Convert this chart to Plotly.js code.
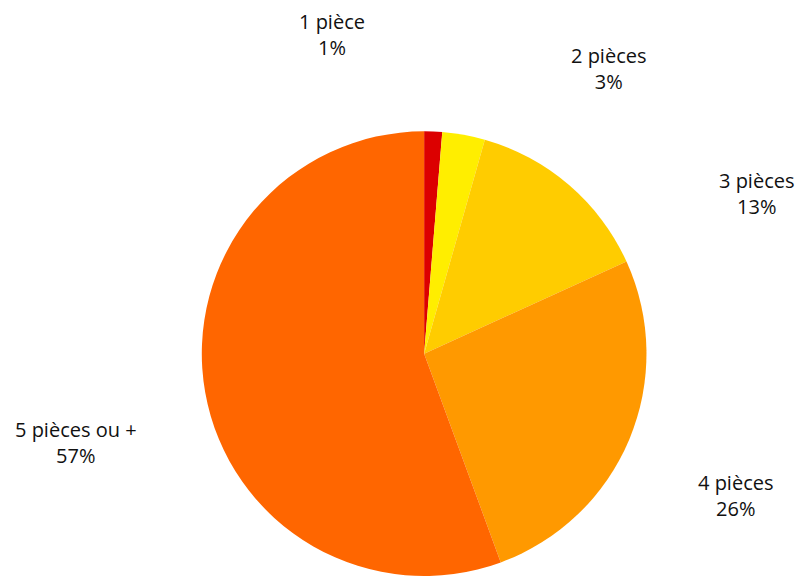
<!DOCTYPE html>
<html><head><meta charset="utf-8">
<script src="https://cdn.plot.ly/plotly-3.0.1.min.js"></script>
<style>html,body{margin:0;padding:0;background:#fff}#chart{width:798px;height:576px}</style>
</head><body><div id="chart"></div>
<script>
const categories = ["1 pièce", "2 pièces", "3 pièces", "4 pièces", "5 pièces ou +"];
const sliceValues = [1.3, 3.1, 13.8, 26.2, 55.6];
const percentLabels = ["1%", "3%", "13%", "26%", "57%"];
const colors = ["#DC0000", "#FFEE00", "#FFCC00", "#FF9900", "#FF6600"];
// label centre positions in pixels (layout)
const labelPos = [[332, 34], [609, 68], [757, 193], [736, 495], [76, 442]];
const W = 798, H = 576;

const annotations = categories.map((c, i) => ({
  text: c + "<br>" + percentLabels[i],
  x: labelPos[i][0] / W, y: 1 - labelPos[i][1] / H,
  xref: "paper", yref: "paper", xanchor: "center", yanchor: "middle",
  showarrow: false, align: "center",
  font: {family: "Open Sans, Noto Sans, sans-serif", size: 20, color: "#111"}
}));

Plotly.newPlot("chart", [{
  type: "pie", labels: categories, values: sliceValues, sort: false,
  direction: "clockwise", rotation: 0, textinfo: "none", hoverinfo: "label+percent",
  marker: {colors: colors, line: {width: 0}},
  domain: {x: [0.218, 0.845], y: [0, 0.772]}
}], {
  width: W, height: H, margin: {l: 0, r: 0, t: 0, b: 0},
  showlegend: false, paper_bgcolor: "#fff", annotations: annotations
}, {staticPlot: true});
</script></body></html>
